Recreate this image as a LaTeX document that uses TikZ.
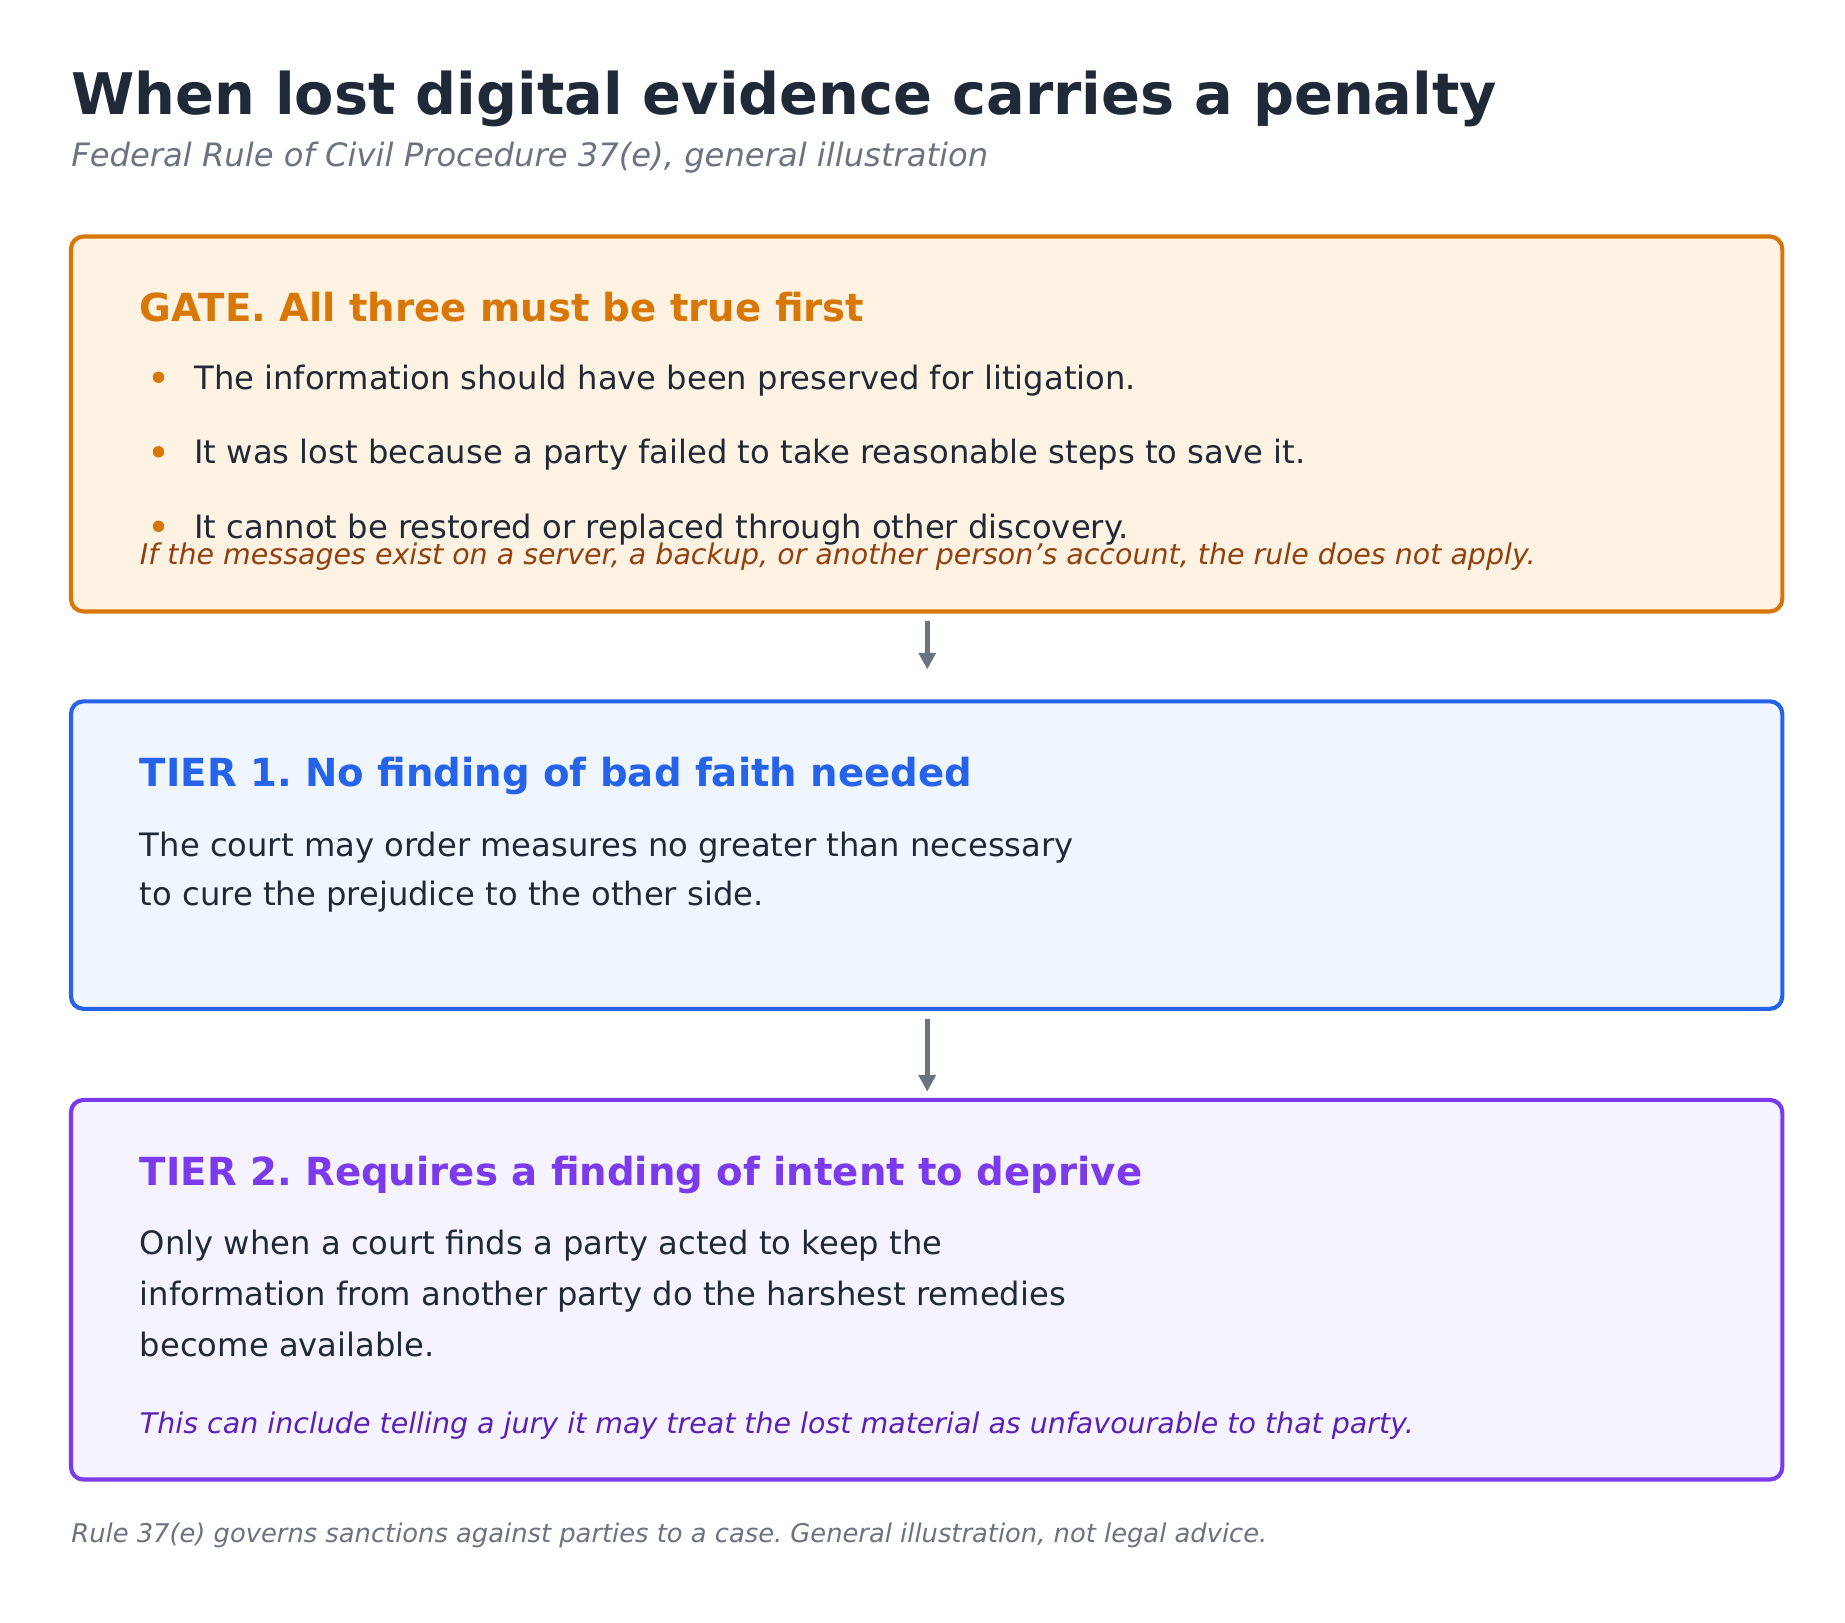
\documentclass[tikz,border=0pt]{standalone}
\usepackage{fontspec}
\setmainfont{DejaVu Sans}
\usetikzlibrary{arrows.meta}
\definecolor{ink}{HTML}{1F2937}
\definecolor{muted}{HTML}{6B7280}
\definecolor{gateC}{HTML}{D97706}
\definecolor{gateF}{HTML}{FEF3E2}
\definecolor{gateN}{HTML}{92400E}
\definecolor{oneC}{HTML}{2563EB}
\definecolor{oneF}{HTML}{EFF6FF}
\definecolor{twoC}{HTML}{7C3AED}
\definecolor{twoF}{HTML}{F5F3FF}
\definecolor{twoN}{HTML}{5B21B6}
\frenchspacing
\begin{document}
\begin{tikzpicture}
    [x=0.02cm, y=-0.02cm,
    box/.style={rounded corners=6pt, line width=2pt},
    txt/.style={anchor=base west, inner sep=0pt, font=\fontsize{15.5}{23}\selectfont, text=ink},
    head/.style={anchor=base west, inner sep=0pt, font=\fontsize{18.6}{22}\selectfont\bfseries},
    note/.style={anchor=base west, inner sep=0pt, font=\fontsize{13.7}{16}\selectfont\itshape},
    dot/.style={circle, fill=gateC, inner sep=0pt, minimum size=5.5pt},
    flow/.style={-{Triangle[length=8pt,width=8pt]}, line width=2.6pt, muted}]

    \useasboundingbox (0,0) rectangle (1560,1372);

    % title
    \node[anchor=base west, inner sep=0pt, font=\fontsize{27.6}{32}\selectfont\bfseries, text=ink] (title) at (60,97) {When lost digital evidence carries a penalty};
    \node[anchor=base west, inner sep=0pt, font=\fontsize{15.5}{18}\selectfont\itshape, text=muted] (sub) at (60,141) {Federal Rule of Civil Procedure 37(e), general illustration};

    % boxes
    \draw[box, draw=gateC, fill=gateF] (60,200) rectangle (1507,517);
    \draw[box, draw=oneC, fill=oneF] (60,593) rectangle (1507,853);
    \draw[box, draw=twoC, fill=twoF] (60,930) rectangle (1507,1251);

    % gate
    \node[head, text=gateC] (gate) at (118,272) {GATE. All three must be true first};
    \foreach \y/\t [count=\i] in {
        329/{The information should have been preserved for litigation.},
        392/{It was lost because a party failed to take reasonable steps to save it.},
        455/{It cannot be restored or replaced through other discovery.}} {
        \node[dot] (b\i) at (134,\y-10) {};
        \node[txt] (g\i) at (164,\y) {\t};
    }
    \node[note, text=gateN] (gnote) at (118,477) {If the messages exist on a server, a backup, or another person\char39 s account, the rule does not apply.};

    % tier 1
    \node[head, text=oneC] (one) at (118,665) {TIER 1. No finding of bad faith needed};
    \node[txt, align=left, anchor=north west, font=\fontsize{15.5}{23.5}\selectfont] (onet) at (118,703) {The court may order measures no greater than necessary\\to cure the prejudice to the other side.};

    % tier 2
    \node[head, text=twoC] (two) at (118,1002) {TIER 2. Requires a finding of intent to deprive};
    \node[txt, align=left, anchor=north west, font=\fontsize{15.5}{24.5}\selectfont] (twot) at (118,1040) {Only when a court finds a party acted to keep the\\information from another party do the harshest remedies\\become available.};
    \node[note, text=twoN] (tnote) at (118,1212) {This can include telling a jury it may treat the lost material as unfavourable to that party.};

    % arrows
    \coordinate (a1) at (784,525);
    \coordinate (a2) at (784,566);
    \coordinate (a3) at (784,862);
    \coordinate (a4) at (784,923);
    \draw[flow] (a1) -- (a2);
    \draw[flow] (a3) -- (a4);

    % footer
    \node[note, font=\fontsize{12.4}{15}\selectfont\itshape, text=muted] (foot) at (60,1304) {Rule 37(e) governs sanctions against parties to a case. General illustration, not legal advice.};
\end{tikzpicture}
\end{document}
